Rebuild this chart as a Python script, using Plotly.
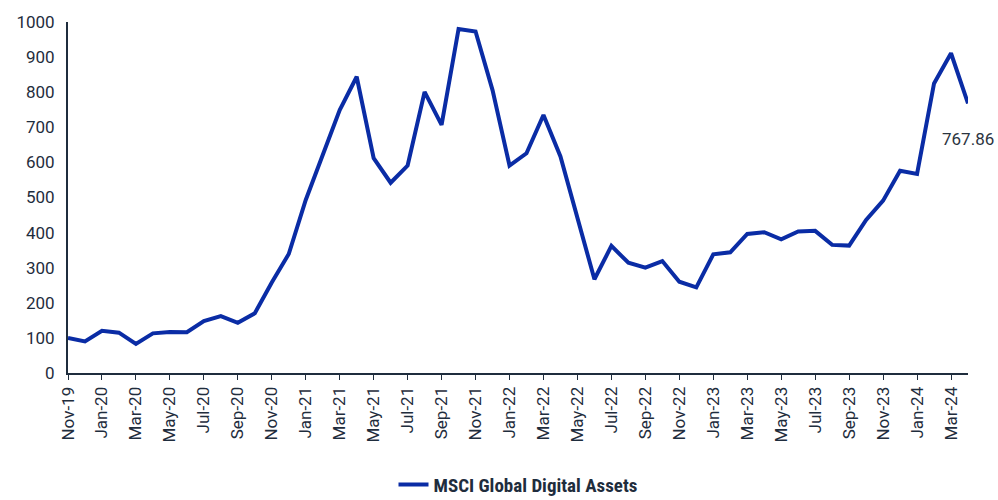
import plotly.graph_objects as go

months = [
    "Nov-19", "Dec-19",
    "Jan-20", "Feb-20", "Mar-20", "Apr-20", "May-20", "Jun-20", "Jul-20", "Aug-20", "Sep-20", "Oct-20", "Nov-20", "Dec-20",
    "Jan-21", "Feb-21", "Mar-21", "Apr-21", "May-21", "Jun-21", "Jul-21", "Aug-21", "Sep-21", "Oct-21", "Nov-21", "Dec-21",
    "Jan-22", "Feb-22", "Mar-22", "Apr-22", "May-22", "Jun-22", "Jul-22", "Aug-22", "Sep-22", "Oct-22", "Nov-22", "Dec-22",
    "Jan-23", "Feb-23", "Mar-23", "Apr-23", "May-23", "Jun-23", "Jul-23", "Aug-23", "Sep-23", "Oct-23", "Nov-23", "Dec-23",
    "Jan-24", "Feb-24", "Mar-24", "Apr-24",
]

msci_digital = [
    100, 90,
    120, 115, 83, 113, 117, 116, 148, 162, 143, 170, 258, 339,
    493, 625, 749, 844, 612, 542, 591, 801, 707, 980, 973, 806,
    591, 626, 735, 617, 441, 267, 362, 314, 300, 319, 260, 244,
    338, 344, 396, 401, 381, 403, 405, 365, 363, 436, 491, 576,
    567, 825, 911, 767.86,
]

tick_labels = months[0:53:2]
last_label = "767.86"

fig = go.Figure()
fig.add_trace(go.Scatter(
    x=months, y=msci_digital, mode="lines",
    name="MSCI Global Digital Assets",
    line=dict(color="#0a2ca5", width=4),
))

fig.add_annotation(
    x=months[-1], y=msci_digital[-1], text=last_label, showarrow=False,
    yshift=-36, font=dict(family="Roboto", size=17, color="#2b3440"),
)

fig.update_layout(
    width=998, height=500,
    margin=dict(l=68, r=30, t=22, b=127, autoexpand=False),
    plot_bgcolor="white", paper_bgcolor="white",
    font=dict(family="Roboto", size=17, color="#1f2d3d"),
    showlegend=True,
    legend=dict(
        orientation="h", x=0.5, xanchor="center", y=-0.318, yanchor="middle",
        font=dict(family="Roboto Condensed, Liberation Sans Narrow, Roboto", size=19, color="#1f2d3d", weight="bold"),
    ),
    xaxis=dict(
        type="category", range=[0, 53],
        tickmode="array", tickvals=tick_labels, ticktext=tick_labels,
        tickangle=-90, ticks="outside", ticklen=5, tickcolor="#1f2d3d",
        showline=True, linecolor="#1f2d3d", linewidth=2,
        showgrid=False, zeroline=False, automargin=False,
        tickfont=dict(family="Roboto", size=17, color="#1f2d3d"),
    ),
    yaxis=dict(
        range=[0, 1000], tickvals=[0, 100, 200, 300, 400, 500, 600, 700, 800, 900, 1000],
        showline=True, linecolor="#1f2d3d", linewidth=2,
        showgrid=False, zeroline=False, ticks="", automargin=False,
        ticklabelstandoff=8,
        tickfont=dict(family="Roboto", size=17, color="#1f2d3d"),
    ),
)

fig.write_html("out.html", config={"displayModeBar": False},
               post_script="document.body.style.margin='0';")
